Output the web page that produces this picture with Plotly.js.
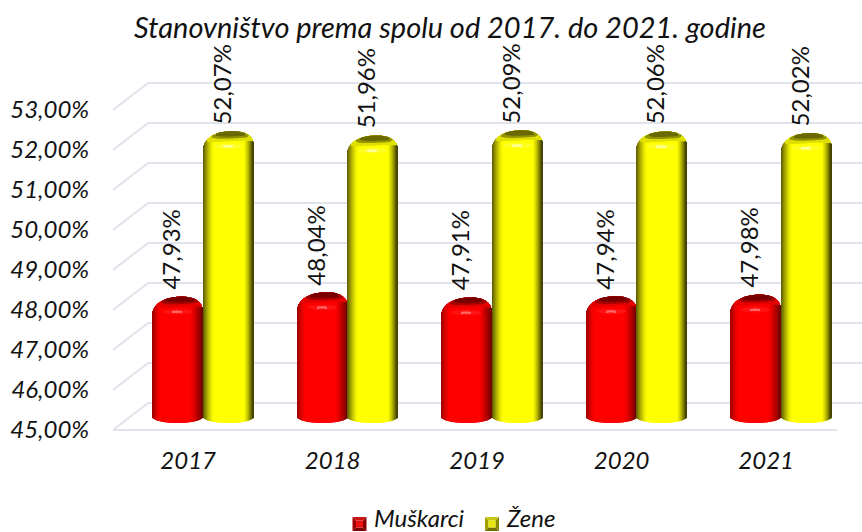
<!DOCTYPE html>
<html><head><meta charset="utf-8">
<script src="https://cdn.plot.ly/plotly-3.0.1.min.js"></script>
<style>html,body{margin:0;padding:0;background:#fff}</style></head>
<body><div id="chart" style="width:862px;height:532px"></div>
<script>
const years = ['2017','2018','2019','2020','2021'];
const muskarci = [47.93,48.04,47.91,47.94,47.98];
const zene = [52.07,51.96,52.09,52.06,52.02];
const yTicks = [45,46,47,48,49,50,51,52,53];
const seriesNames = ['Muškarci','Žene'];

const W=862,H=532,L=113,PH=432,PXU=40,PXC=144.5;
const FONT='Lato, "Open Sans", sans-serif';
const INK='#111';
const GRID='#e0e3eb';
const mix=(a,b,t)=>{t=Math.max(0,Math.min(1,t));return 'rgb('+a.map((v,i)=>Math.round(v+(b[i]-v)*t)).join(',')+')';};
const styles=[
 {base:[255,0,0],dl:[150,0,0],dr:[110,0,0],sl:0.66,sr:0.5,cap:[120,0,0],mid:[205,0,0],hi:[255,110,110],hi2:[255,30,30]},
 {base:[255,255,0],dl:[85,85,0],dr:[55,55,0],sl:0.56,sr:0.62,cap:[105,105,0],mid:[190,190,0],hi:[255,255,170],hi2:[255,255,60]}
];
const N=50, barW=50.5/PXC, dropY=16, P=2.2;
const pu=v=>v/PXU;
function topPx(u){return 3+2*u-dropY*(1-Math.pow(1-Math.pow(Math.abs(u),P),1/P));}
function cylinder(values,st,centerShift,name){
  const x=[],y=[],base=[],width=[],offset=[],color=[];
  const w=barW/N;
  const cell=(i,k,lo,hi,c)=>{x.push(i+centerShift);offset.push(-barW/2+k*w);width.push(w*1.02);base.push(lo);y.push(hi-lo);color.push(c);};
  values.forEach((v,i)=>{
    for(let k=0;k<N;k++){
      const u=-1+(2*k+1)/N;
      const t=v+pu(topPx(u));
      const b=45-pu(6)*Math.sqrt(1-u*u);
      let c;
      if(u<-st.sl) c=mix(st.base,st.dl,Math.pow((-st.sl-u)/(1-st.sl),1.4));
      else if(u>st.sr) c=mix(st.base,st.dr,Math.pow((u-st.sr)/(1-st.sr),1.4));
      else c=mix(st.base,st.base,0);
      cell(i,k,b,t,c);
    }
    for(let k=0;k<N;k++){
      const u=-1+(2*k+1)/N, t=v+pu(topPx(u));
      const ell=(c0,hw)=>{const q=(u-c0)/hw;return Math.abs(q)<1?Math.sqrt(1-q*q):0;};
      const e0=ell(0.05,0.9);
      if(e0>0) cell(i,k,t-pu(10*e0),t,mix(st.base,st.mid,0.5));
      const e1=ell(0.08,0.72);
      if(e1>0) cell(i,k,t-pu(7.5*e1),t,mix(st.mid,st.cap,0.5));
      const e2=ell(0.1,0.6);
      if(e2>0) cell(i,k,t-pu(5.5*e2),t,mix(st.cap,st.cap,0));
      const e3=ell(0,0.55);
      const mid3=v+pu(3)-pu(15);
      if(e3>0) cell(i,k,mid3-pu(2.5*e3),mid3+pu(2.5*e3),mix(st.base,st.hi2,0.6));
      const e4=ell(0,0.22);
      if(e4>0) cell(i,k,mid3-pu(1.2*e4),mid3+pu(1.2*e4),mix(st.hi2,st.hi,0.9));
    }
  });
  return {type:'bar',name:name,x,y,base,width,offset,opacity:1,marker:{color,opacity:1,line:{width:0}},yaxis:'y2',showlegend:false,hoverinfo:'skip'};
}
const redC=(203-25.25-(L+PXC/2))/PXC, yelC=(203+25.25-(L+PXC/2))/PXC;
const traces=[cylinder(muskarci,styles[0],redC,seriesNames[0]),cylinder(zene,styles[1],yelC,seriesNames[1])];

const xMin=-0.5,xMax=-0.5+(W-L)/PXC,backDx=35/PXC,backDy=27/PXU;
const gridLine={color:GRID,width:2};
const shapes=[];
yTicks.forEach(v=>{
  shapes.push({type:'line',layer:'below',xref:'x',yref:'y',x0:xMin,y0:v,x1:xMin+backDx,y1:v+backDy,line:gridLine});
  shapes.push({type:'line',layer:'below',xref:'x',yref:'y',x0:xMin+backDx,y0:v+backDy,x1:xMax,y1:v+backDy,line:gridLine});
});
shapes.push({type:'line',layer:'below',xref:'x',yref:'y',x0:xMin,y0:45,x1:xMin+(837-L)/PXC,y1:45,line:gridLine});

const fmt=v=>v.toFixed(2).replace('.',',')+'%';
const px=a=>(a-L)/(W-L), py=a=>(PH-a)/PH;
const annotations=[];
[[muskarci,redC],[zene,yelC]].forEach(([vals,c])=>vals.forEach((v,i)=>{
  annotations.push({xref:'x',yref:'y2',x:i+c,y:v,xshift:-7,yshift:8,text:fmt(v),textangle:-90,showarrow:false,
    xanchor:'center',yanchor:'bottom',font:{family:FONT,size:24,color:INK}});
}));
function poly(p){return 'M'+p.map(a=>px(a[0])+','+py(a[1])).join('L')+'Z';}
function swatch(x,y,s,cols){
  const d=3.5,a=[x,y],b=[x+s,y],c=[x+s,y+s],e=[x,y+s],ia=[x+d,y+d],ib=[x+s-d,y+d],ic=[x+s-d,y+s-d],ie=[x+d,y+s-d];
  [[[a,b,ib,ia],cols[0]],[[a,ia,ie,e],cols[1]],[[b,c,ic,ib],cols[2]],[[e,ie,ic,c],cols[3]],[[ia,ib,ic,ie],cols[4]]].forEach(([p,col])=>{
    shapes.push({type:'path',xref:'paper',yref:'paper',path:poly(p),fillcolor:col,line:{width:0},layer:'above'});
  });
}
swatch(352.5,517,14,['#c81414','#a00000','#8a0000','#780000','#ee0f0f']);
swatch(485,517,14,['#c8c814','#a0a000','#8a8a00','#707000','#e6e60a']);
annotations.push({xref:'paper',yref:'paper',x:px(372),y:py(517),xanchor:'left',yanchor:'middle',text:seriesNames[0],showarrow:false,font:{family:FONT,size:24,color:INK,style:'italic'}});
annotations.push({xref:'paper',yref:'paper',x:px(504),y:py(517),xanchor:'left',yanchor:'middle',text:seriesNames[1],showarrow:false,font:{family:FONT,size:24,color:INK,style:'italic'}});

const tickFont={family:FONT,size:24,color:INK,style:'italic'};
const rangeB=45-(PH-430)/PXU, rangeT=rangeB+PH/PXU, shift=13/PXU;
const layout={
  width:W,height:H,paper_bgcolor:'#fff',plot_bgcolor:'rgba(0,0,0,0)',
  margin:{l:L,r:0,t:0,b:H-PH,pad:0},barmode:'overlay',showlegend:false,
  title:{text:'Stanovništvo prema spolu od 2017. do 2021. godine',font:{family:FONT,size:29,color:INK,style:'italic'},x:450/W,xanchor:'center',y:1-28/H,yanchor:'middle',xref:'container',yref:'container'},
  xaxis:{type:'linear',range:[xMin,xMax],fixedrange:true,tickmode:'array',tickvals:years.map((_,i)=>i+0.02),ticktext:years,showgrid:false,zeroline:false,showline:false,ticks:'outside',ticklen:7,tickcolor:'rgba(0,0,0,0)',tickfont:tickFont},
  yaxis:{range:[rangeB,rangeT],fixedrange:true,tickmode:'array',tickvals:yTicks,ticktext:yTicks.map(fmt),showgrid:false,zeroline:false,showline:false,ticks:'outside',ticklen:18,tickcolor:'rgba(0,0,0,0)',tickfont:tickFont},
  yaxis2:{overlaying:'y',range:[rangeB-shift,rangeT-shift],visible:false,fixedrange:true},
  shapes,annotations
};
Plotly.newPlot('chart',traces,layout,{displayModeBar:false});
</script></body></html>
